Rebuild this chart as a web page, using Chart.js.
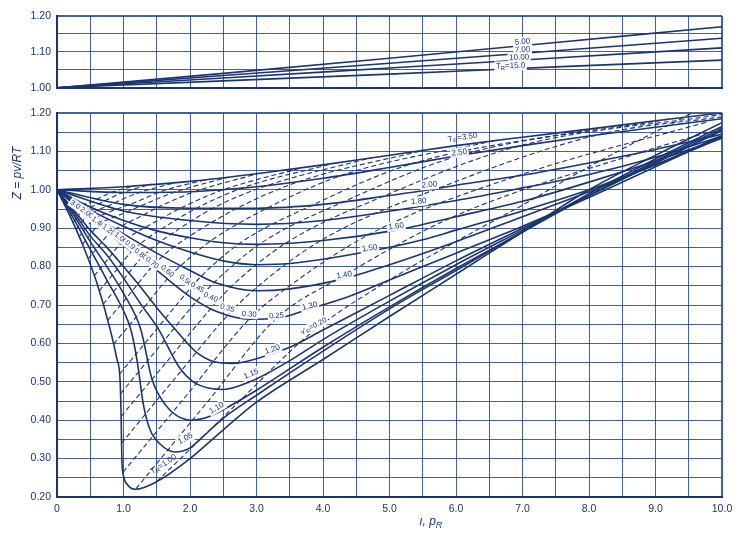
<!DOCTYPE html>
<html lang="en">
<head>
<meta charset="utf-8" />
<title>Generalized compressibility chart</title>
<script src="https://cdn.jsdelivr.net/npm/chart.js@4.4.1/dist/chart.umd.min.js"></script>
<style>
	html, body { margin: 0; padding: 0; background: #fff; }
	#wrap { position: relative; width: 750px; height: 537px; }
	#top { position: absolute; left: 0; top: 0; }
	#main { position: absolute; left: 0; top: 100px; }
</style>
</head>
<body>
<div id="wrap">
	<canvas id="top" width="750" height="100"></canvas>
	<canvas id="main" width="750" height="437"></canvas>
</div>

<script>
	// tick labels
	var xTickLabels = ["0", "1.0", "2.0", "3.0", "4.0", "5.0", "6.0", "7.0", "8.0", "9.0", "10.0"];
	var yTopLabels = ["1.00", "1.10", "1.20"];
	var yMainLabels = ["0.20", "0.30", "0.40", "0.50", "0.60", "0.70", "0.80", "0.90", "1.00", "1.10", "1.20"];

	// upper panel isotherms, points are [p_R, Z]
	var tr500 = [[0, 1.0], [2.5, 1.04], [5, 1.082], [7.5, 1.126], [10, 1.17]];
	var tr700 = [[0, 1.0], [2.5, 1.034], [5, 1.068], [7.5, 1.103], [10, 1.138]];
	var tr1000 = [[0, 1.0], [2.5, 1.027], [5, 1.055], [7.5, 1.083], [10, 1.111]];
	var tr1500 = [[0, 1.0], [2.5, 1.019], [5, 1.038], [7.5, 1.058], [10, 1.077]];

	// main panel isotherms (solid)
	var tr100 = [[0, 1.0], [0.2, 0.93], [0.4, 0.851], [0.6, 0.757], [0.8, 0.636], [0.9, 0.56], [0.95, 0.5], [0.965, 0.4], [0.975, 0.3], [1.0, 0.255], [1.06, 0.232], [1.18, 0.22], [1.5, 0.24], [2, 0.3], [2.5, 0.375], [3, 0.447], [4, 0.558], [5, 0.67], [6, 0.78], [7, 0.89], [8, 1.0], [9, 1.09], [10, 1.175]];
	var tr105 = [[0, 1.0], [0.25, 0.925], [0.5, 0.845], [0.75, 0.765], [1.0, 0.685], [1.11, 0.636], [1.2, 0.56], [1.3, 0.44], [1.4, 0.375], [1.55, 0.338], [1.78, 0.317], [2.0, 0.328], [2.2, 0.358], [2.5, 0.405], [3, 0.465], [4, 0.58], [5, 0.69], [6, 0.79], [7, 0.89], [8, 0.99], [9, 1.08], [10, 1.165]];
	var tr110 = [[0, 1.0], [0.25, 0.935], [0.5, 0.865], [0.75, 0.8], [1.0, 0.73], [1.26, 0.636], [1.43, 0.506], [1.63, 0.44], [1.8, 0.412], [2.03, 0.4], [2.3, 0.41], [2.6, 0.437], [3, 0.478], [4, 0.59], [5, 0.695], [6, 0.795], [7, 0.89], [8, 0.985], [9, 1.075], [10, 1.16]];
	var tr115 = [[0, 1.0], [0.25, 0.942], [0.5, 0.88], [0.75, 0.83], [1.0, 0.77], [1.25, 0.705], [1.53, 0.636], [1.83, 0.54], [2.05, 0.5], [2.3, 0.483], [2.5, 0.48], [2.9, 0.5], [3.5, 0.555], [4, 0.61], [5, 0.71], [6, 0.805], [7, 0.895], [8, 0.985], [9, 1.07], [10, 1.155]];
	var tr120 = [[0, 1.0], [0.25, 0.948], [0.5, 0.895], [0.75, 0.85], [1.0, 0.8], [1.25, 0.748], [1.5, 0.693], [1.78, 0.636], [2.09, 0.578], [2.35, 0.553], [2.64, 0.548], [3.0, 0.56], [3.5, 0.59], [4, 0.635], [5, 0.725], [6, 0.815], [7, 0.9], [8, 0.985], [9, 1.07], [10, 1.155]];
	var tr130 = [[0, 1.0], [0.5, 0.925], [1.0, 0.855], [1.5, 0.79], [2.0, 0.722], [2.4, 0.683], [2.9, 0.663], [3.3, 0.665], [3.8, 0.69], [4.4, 0.723], [5, 0.765], [6, 0.835], [7, 0.905], [8, 0.98], [9, 1.06], [10, 1.14]];
	var tr140 = [[0, 1.0], [0.5, 0.937], [1.0, 0.885], [1.5, 0.835], [2.0, 0.79], [2.4, 0.757], [3.0, 0.737], [3.5, 0.742], [4.3, 0.768], [5, 0.805], [6, 0.865], [7, 0.93], [8, 0.995], [9, 1.065], [10, 1.14]];
	var tr150 = [[0, 1.0], [0.5, 0.947], [1.0, 0.905], [1.5, 0.868], [2.0, 0.838], [2.5, 0.815], [3.0, 0.805], [3.5, 0.808], [4.7, 0.84], [5.5, 0.87], [6, 0.895], [7, 0.945], [8, 1.0], [9, 1.065], [10, 1.135]];
	var tr160 = [[0, 1.0], [0.5, 0.955], [1.0, 0.92], [1.5, 0.893], [2.0, 0.875], [2.5, 0.862], [3.0, 0.858], [4, 0.868], [5.1, 0.895], [6, 0.93], [7, 0.97], [8, 1.02], [9, 1.075], [10, 1.135]];
	var tr180 = [[0, 1.0], [1, 0.945], [2, 0.92], [3, 0.91], [4, 0.92], [5.4, 0.955], [6, 0.972], [7, 1.005], [8, 1.04], [9, 1.085], [10, 1.14]];
	var tr200 = [[0, 1.0], [1, 0.962], [2, 0.952], [3, 0.952], [4, 0.962], [5, 0.985], [5.6, 1.0], [6, 1.012], [7, 1.038], [8, 1.07], [9, 1.105], [10, 1.145]];
	var tr250 = [[0, 1.0], [1, 0.993], [2, 0.995], [3, 1.008], [4, 1.03], [5, 1.058], [6, 1.088], [7, 1.115], [8, 1.14], [9, 1.163], [10, 1.185]];
	var tr350 = [[0, 1.0], [1, 1.008], [2, 1.022], [3, 1.042], [4, 1.065], [5, 1.09], [6, 1.115], [7, 1.137], [8, 1.158], [9, 1.18], [10, 1.2]];

	// lines of constant ideal reduced volume v'R (dashed)
	var vr020 = [[1.5, 0.24], [2.6, 0.425], [3.84, 0.63], [5, 0.765], [6.1, 0.875], [7, 0.96], [8, 1.06], [9.55, 1.2]];
	var vr025 = [[1.19, 0.222], [2.25, 0.445], [3.3, 0.665], [4.3, 0.775], [5.95, 0.929], [8.75, 1.096], [10, 1.16]];
	var vr030 = [[0.995, 0.265], [1.95, 0.465], [2.89, 0.663], [3.46, 0.745], [4.73, 0.887], [6.9, 1.035], [9.8, 1.178]];
	var vr035 = [[0.97, 0.34], [1.77, 0.508], [2.56, 0.672], [2.95, 0.738], [3.97, 0.868], [5.75, 1.005], [8.18, 1.145], [10, 1.19]];
	var vr040 = [[0.964, 0.41], [1.64, 0.55], [2.31, 0.69], [2.62, 0.748], [3.45, 0.862], [4.92, 0.984], [6.97, 1.115], [10, 1.196]];
	var vr045 = [[0.956, 0.469], [1.53, 0.59], [2.11, 0.712], [2.36, 0.758], [3.06, 0.86], [4.3, 0.968], [6.05, 1.089], [9.2, 1.184]];
	var vr050 = [[0.94, 0.52], [1.44, 0.625], [1.94, 0.73], [2.17, 0.775], [2.76, 0.862], [3.84, 0.96], [5.34, 1.068], [8.12, 1.16]];
	var vr060 = [[0.85, 0.598], [1.26, 0.683], [1.66, 0.768], [1.88, 0.805], [2.32, 0.868], [3.18, 0.954], [4.34, 1.041], [6.58, 1.128]];
	var vr070 = [[0.761, 0.66], [1.1, 0.73], [1.43, 0.8], [1.66, 0.838], [2.0, 0.88], [2.73, 0.954], [3.65, 1.022], [5.52, 1.103]];
	var vr080 = [[0.693, 0.702], [0.98, 0.762], [1.26, 0.821], [1.48, 0.855], [1.78, 0.892], [2.39, 0.956], [3.16, 1.011], [4.74, 1.084]];
	var vr090 = [[0.636, 0.737], [0.88, 0.788], [1.12, 0.839], [1.34, 0.871], [1.59, 0.9], [2.12, 0.954], [2.79, 1.005], [4.16, 1.069]];
	var vr100 = [[0.56, 0.776], [0.76, 0.818], [0.96, 0.86], [1.22, 0.892], [1.45, 0.914], [1.915, 0.957], [2.5, 1.0], [3.7, 1.058]];
	var vr120 = [[0.468, 0.82], [0.62, 0.852], [0.78, 0.885], [1.04, 0.912], [1.225, 0.928], [1.6, 0.961], [2.07, 0.995], [3.04, 1.043]];
	var vr140 = [[0.383, 0.858], [0.5, 0.883], [0.62, 0.908], [0.905, 0.932], [1.06, 0.943], [1.38, 0.967], [1.77, 0.994], [2.58, 1.033]];
	var vr160 = [[0.33, 0.878], [0.43, 0.899], [0.53, 0.92], [0.8, 0.943], [0.935, 0.952], [1.205, 0.969], [1.555, 0.995], [2.25, 1.027]];
	var vr200 = [[0.284, 0.897], [0.37, 0.915], [0.45, 0.932], [0.65, 0.95], [0.755, 0.957], [0.975, 0.975], [1.24, 0.993], [1.785, 1.019]];
	var vr250 = [[0.24, 0.914], [0.3, 0.927], [0.37, 0.944], [0.612, 0.962], [0.782, 0.977], [0.993, 0.993], [1.422, 1.015]];
	var vr300 = [[0.2, 0.932], [0.3, 0.955], [0.512, 0.968], [0.653, 0.98], [0.828, 0.994], [1.18, 1.011]];

	// curve labels: text, p_R, Z, angle in degrees, white backing
	var topLabels = [
		["5.00", 7.0, 1.128, -5, true],
		["7.00", 7.0, 1.106, -4, true],
		["10.00", 6.95, 1.084, -3, true],
		["T_R=15.0", 6.82, 1.061, -2, true]
	];
	var isoLabels = [
		["T_R=3.50", 6.1, 1.136, -8, false],
		["2.50", 6.05, 1.097, -8, true],
		["2.00", 5.6, 1.013, -5, true],
		["1.80", 5.44, 0.97, -6, true],
		["1.60", 5.1, 0.905, -7, true],
		["1.50", 4.7, 0.848, -8, true],
		["1.40", 4.32, 0.778, -10, true],
		["1.30", 3.8, 0.697, -12, true],
		["1.20", 3.24, 0.584, -18, true],
		["1.15", 2.92, 0.52, -24, true],
		["1.10", 2.4, 0.432, -30, true],
		["1.05", 1.93, 0.352, -28, true],
		["T_R=1.00", 1.6, 0.285, -33, false]
	];
	var volLabels = [
		["3.00", 0.3, 0.958, 35, true],
		["2.00", 0.45, 0.94, 35, true],
		["1.40", 0.62, 0.915, 36, true],
		["1.20", 0.78, 0.895, 36, true],
		["1.00", 0.96, 0.874, 37, true],
		["0.90", 1.12, 0.853, 38, true],
		["0.80", 1.26, 0.832, 38, true],
		["0.70", 1.43, 0.81, 40, true],
		["0.60", 1.66, 0.788, 40, true],
		["0.50", 1.94, 0.764, 36, true],
		["0.45", 2.11, 0.745, 30, true],
		["0.40", 2.31, 0.72, 24, true],
		["0.35", 2.56, 0.692, 16, true],
		["0.30", 2.89, 0.676, 4, true],
		["0.25", 3.3, 0.672, -4, true],
		["v'_R=0.20", 3.86, 0.645, -28, true]
	];

	var ink = "#1a3572";
	var gridInk = "rgba(30, 62, 132, 0.82)";
	var fontFamily = "'Liberation Sans', 'DejaVu Sans', sans-serif";

	function line(points, dashed) {
		return {
			data: points.map(function (p) { return { x: p[0], y: p[1] }; }),
			borderColor: ink,
			borderWidth: dashed ? 1.1 : 1.6,
			borderDash: dashed ? [5, 3] : [],
			pointRadius: 0,
			fill: false,
			cubicInterpolationMode: "monotone"
		};
	}

	// draws "T_R=3.50" with R as a subscript, centred on 0,0
	function drawRich(ctx, text, size, bg, style) {
		var pre = style ? style + " " : "";
		var parts = [];
		text.split("_").forEach(function (seg, i) {
			if (i === 0) { parts.push([seg, false]); return; }
			parts.push([seg.charAt(0), true]);
			if (seg.length > 1) parts.push([seg.slice(1), false]);
		});
		var widths = parts.map(function (p) {
			ctx.font = pre + (p[1] ? size * 0.75 : size) + "px " + fontFamily;
			return ctx.measureText(p[0]).width;
		});
		var total = widths.reduce(function (a, b) { return a + b; }, 0);
		if (bg) {
			ctx.fillStyle = "rgba(255,255,255,0.92)";
			ctx.fillRect(-total / 2 - 1.5, -size / 2 - 1, total + 3, size + 2);
		}
		ctx.fillStyle = ink;
		ctx.textBaseline = "middle";
		ctx.textAlign = "left";
		var x = -total / 2;
		parts.forEach(function (p, i) {
			ctx.font = pre + (p[1] ? size * 0.75 : size) + "px " + fontFamily;
			ctx.fillText(p[0], x, p[1] ? size * 0.3 : 0);
			x += widths[i];
		});
	}

	function labelPlugin(groups) {
		return {
			id: "curveLabels",
			afterDatasetsDraw: function (chart) {
				var ctx = chart.ctx;
				var xs = chart.scales.x, ys = chart.scales.y;
				groups.forEach(function (g) {
					g.items.forEach(function (it) {
						ctx.save();
						ctx.translate(xs.getPixelForValue(it[1]), ys.getPixelForValue(it[2]));
						ctx.rotate(it[3] * Math.PI / 180);
						drawRich(ctx, it[0], g.size, it[4]);
						ctx.restore();
					});
				});
			}
		};
	}

	// axis titles of the main panel
	var titlePlugin = {
		id: "axisTitles",
		afterDraw: function (chart) {
			var ctx = chart.ctx, area = chart.chartArea;
			ctx.save();
			ctx.translate(chart.scales.x.getPixelForValue(5.62), area.bottom + 25);
			drawRich(ctx, "ı, p_R", 12, false, "italic");
			ctx.restore();
			ctx.save();
			ctx.translate(18, area.top + 60);
			ctx.rotate(-Math.PI / 2);
			drawRich(ctx, "Z = pv/RT", 12, false, "italic");
			ctx.restore();
		}
	};

	function xScale(showTicks, height) {
		return {
			type: "linear",
			min: 0,
			max: 10,
			afterFit: function (s) { s.height = height; },
			ticks: {
				display: showTicks,
				stepSize: 0.5,
				autoSkip: false,
				maxRotation: 0,
				padding: 6,
				color: ink,
				font: { family: fontFamily, size: 10.5 },
				callback: function (v) {
					var k = Math.round(v * 2);
					return k % 2 === 0 ? xTickLabels[k / 2] : "";
				}
			},
			grid: {
				color: gridInk,
				drawTicks: false,
				lineWidth: function (c) { return c.tick && Math.abs(c.tick.value - 10) < 1e-6 ? 2 : 1; }
			},
			border: { display: true, color: ink, width: 2 }
		};
	}

	function yScale(min, max, labels) {
		return {
			type: "linear",
			min: min,
			max: max,
			afterFit: function (s) { s.width = 57; },
			ticks: {
				stepSize: 0.05,
				autoSkip: false,
				padding: 6,
				color: ink,
				font: { family: fontFamily, size: 10.5 },
				callback: function (v) {
					var k = Math.round(v * 20);
					if (k % 2 !== 0) return "";
					return labels[(k - Math.round(min * 20)) / 2];
				}
			},
			grid: {
				color: gridInk,
				drawTicks: false,
				lineWidth: function (c) { return c.tick && Math.abs(c.tick.value - max) < 1e-6 ? 2 : 1; }
			},
			border: { display: true, color: ink, width: 2 }
		};
	}

	new Chart(document.getElementById("top"), {
		type: "line",
		data: {
			datasets: [tr500, tr700, tr1000, tr1500].map(function (s) { return line(s, false); })
		},
		options: {
			responsive: false,
			animation: false,
			layout: { padding: { left: 0, right: 28, top: 16, bottom: 0 } },
			plugins: { legend: { display: false }, tooltip: { enabled: false } },
			scales: {
				x: xScale(false, 7),
				y: yScale(1.0, 1.2, yTopLabels)
			}
		},
		plugins: [labelPlugin([{ items: topLabels, size: 8 }])]
	});

	var solid = [tr100, tr105, tr110, tr115, tr120, tr130, tr140, tr150, tr160, tr180, tr200, tr250, tr350];
	var dashed = [vr020, vr025, vr030, vr035, vr040, vr045, vr050, vr060, vr070, vr080, vr090, vr100, vr120, vr140, vr160, vr200, vr250, vr300];

	new Chart(document.getElementById("main"), {
		type: "line",
		data: {
			datasets: dashed.map(function (s) { return line(s, true); })
				.concat(solid.map(function (s) { return line(s, false); }))
		},
		options: {
			responsive: false,
			animation: false,
			layout: { padding: { left: 0, right: 28, top: 13, bottom: 0 } },
			plugins: { legend: { display: false }, tooltip: { enabled: false } },
			scales: {
				x: xScale(true, 40),
				y: yScale(0.2, 1.2, yMainLabels)
			}
		},
		plugins: [
			labelPlugin([
				{ items: volLabels, size: 7.5 },
				{ items: isoLabels, size: 8 }
			]),
			titlePlugin
		]
	});
</script>
</body>
</html>
